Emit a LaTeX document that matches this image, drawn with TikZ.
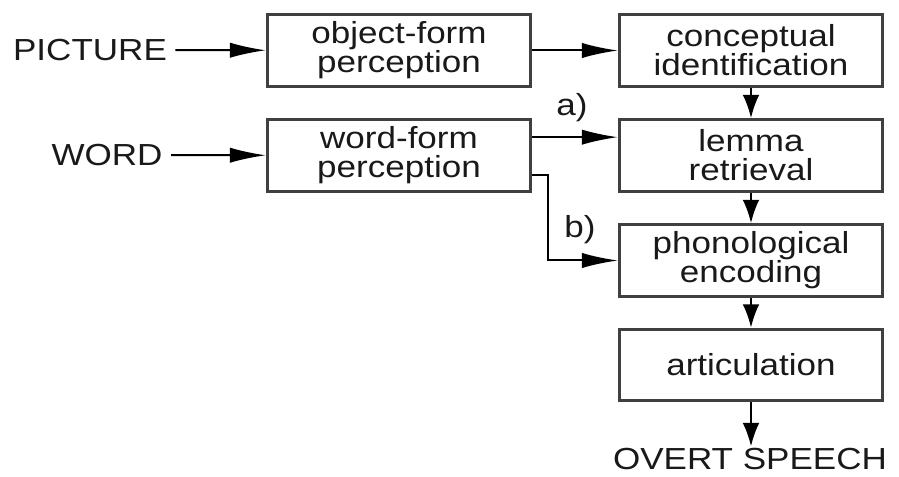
\documentclass[tikz,border=0pt]{standalone}
\usepackage{fontspec}
\setmainfont{Liberation Sans}[FakeStretch=1.15]
\usetikzlibrary{arrows.meta}
\begin{document}
\begin{tikzpicture}[x=0.3mm,y=-0.3mm,
    stage/.style={draw=black!75,line width=0.09cm,minimum width=7.9cm,minimum height=2.15cm,inner sep=0pt,align=center,text=black!90,font=\fontsize{26}{24.8}\selectfont},
    inlabel/.style={inner sep=0.25cm,text=black!90,font=\fontsize{26}{24.8}\selectfont},
    hArr/.style={line width=0.06cm,-{Latex[length=1.08cm,width=0.46cm]}},
    vArr/.style={line width=0.06cm,-{Latex[length=0.7cm,width=0.5cm]}}]
    \useasboundingbox (0,0) rectangle (899,477);
    \node[stage] (objform) at (399,50.5) {object-form\\perception};
    \node[stage] (wordform) at (399,155.5) {word-form\\perception};
    \node[stage] (concept) at (751,50.5) {conceptual\\identification};
    \node[stage] (lemma) at (751,155.5) {lemma\\retrieval};
    \node[stage] (phon) at (751,260.5) {phonological\\encoding};
    \node[stage] (artic) at (751,365) {articulation};
    \node[inlabel] (picture) at (90,50) {PICTURE};
    \node[inlabel] (word) at (107,155) {WORD};
    \node[inlabel,inner sep=0.05cm] (speech) at (750,459) {OVERT SPEECH};
    \node[inlabel,inner sep=0pt] (lblA) at (572,108) {a)};
    \node[inlabel,inner sep=0pt] (lblB) at (580,230) {b)};
    \draw[hArr] (picture) -- (objform);
    \draw[hArr] (word) -- (wordform);
    \draw[hArr] (objform) -- (concept);
    \draw[hArr] ([yshift=0.55cm]wordform.east) -- ([yshift=0.55cm]lemma.west);
    \draw[hArr] ([yshift=-0.58cm]wordform.east) -- ++(16,0) |- (phon.west);
    \draw[vArr] (concept) -- (lemma);
    \draw[vArr] (lemma) -- (phon);
    \draw[vArr] (phon) -- (artic);
    \draw[vArr] (artic) -- (artic |- speech.north);
\end{tikzpicture}
\end{document}
